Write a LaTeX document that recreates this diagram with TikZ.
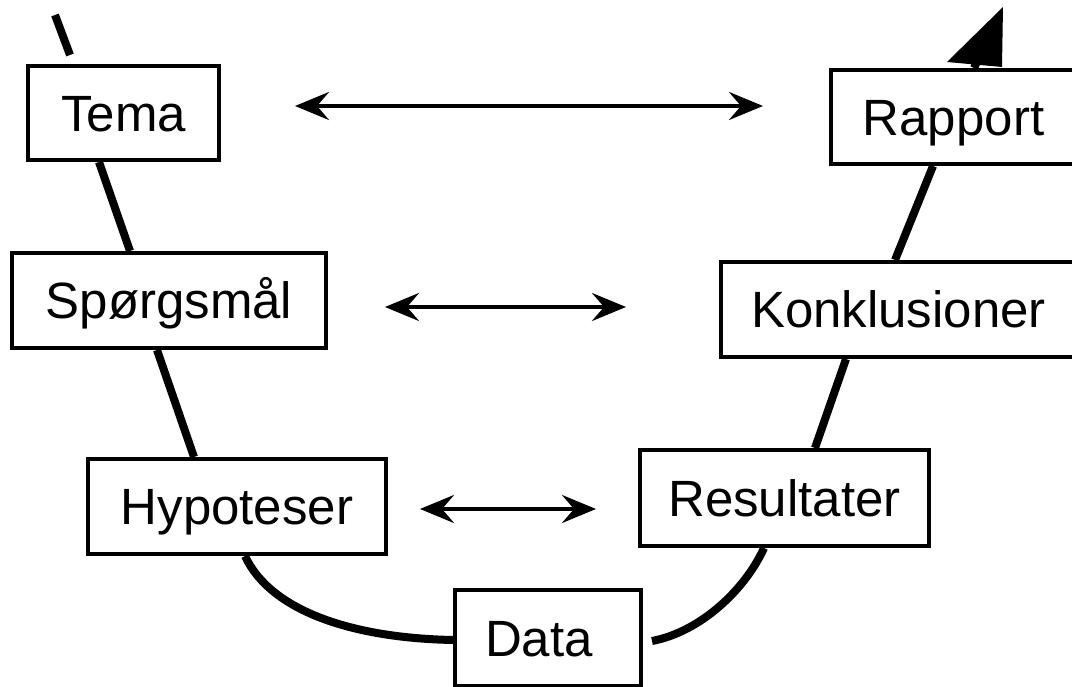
\documentclass[tikz,border=0pt]{standalone}
\usepackage{fontspec}
\setmainfont{Liberation Sans}
\usetikzlibrary{arrows.meta,calc,backgrounds}
\begin{document}
\begin{tikzpicture}[x=1pt,y=-1pt,
  box/.style={draw, fill=white, line width=4pt, inner sep=0pt,
    font=\fontsize{51}{60}\selectfont, text height=36.5pt, text depth=0pt},
  flow/.style={line width=8pt},
  harrow/.style={line width=4pt,
    {Stealth[length=34pt,width=28pt,inset=12pt]}-{Stealth[length=34pt,width=28pt,inset=12pt]}}]
\useasboundingbox (0,0) rectangle (1072,687);

% boxes
\node[box, minimum width=191pt, minimum height=94pt] (tema) at (123.5,113) {Tema};
\node[box, minimum width=245pt, minimum height=94pt] (rapport) at (953.5,117) {Rapport};
\node[box, minimum width=314pt, minimum height=95pt] (sp) at (169,300.5) {Spørgsmål};
\node[box, minimum width=355pt, minimum height=95pt] (konk) at (898.5,309.5) {Konklusioner};
\node[box, minimum width=298pt, minimum height=95pt] (hyp) at (237,506.5) {Hypoteser};
\node[box, minimum width=289pt, minimum height=96pt] (res) at (784.5,498) {Resultater};
\node[box, minimum width=186pt, minimum height=96pt] (data) at (548,638) {Data\hspace*{18pt}};

\coordinate (start) at (55,15);
\coordinate (tip) at (1003,7);
\coordinate (tipl) at (947,62);
\coordinate (tipr) at (1002,67);

\begin{scope}[on background layer]
  \draw[flow] (start) -- ($(tema.north west)+(44,-9)$);
  \draw[flow] ($(tema.south west)+(73,0)$) -- ($(sp.north west)+(120,0)$);
  \draw[flow] ($(sp.south west)+(147,0)$) -- ($(hyp.north west)+(108,0)$);
  \draw[flow] ($(hyp.south west)+(159,0)$) .. controls (270,610) and (350,638) .. (data.west |- 0,640);
  \draw[flow] ($(data.east)+(9,3)$) .. controls (700,632) and (745,590) .. ($(res.south west)+(126,0)$);
  \draw[flow] ($(res.north west)+(177,0)$) -- ($(konk.south west)+(127,0)$);
  \draw[flow] ($(konk.north west)+(176,0)$) -- ($(rapport.south west)+(104,0)$);
  \draw[flow, shorten >=12pt] ($(rapport.north west)+(145,0)$) -- (tip);
  \fill (tip) -- (tipl) -- (tipr) -- cycle;
\end{scope}

% horizontal double arrows
\draw[harrow] ($(tema.east)+(74,-7)$) -- ($(rapport.west)+(-66,-11)$);
\draw[harrow] ($(sp.east)+(57,6.5)$) -- ($(konk.west)+(-93,-2.5)$);
\draw[harrow] ($(hyp.east)+(32,2.5)$) -- ($(res.west)+(-42,11)$);
\end{tikzpicture}
\end{document}
